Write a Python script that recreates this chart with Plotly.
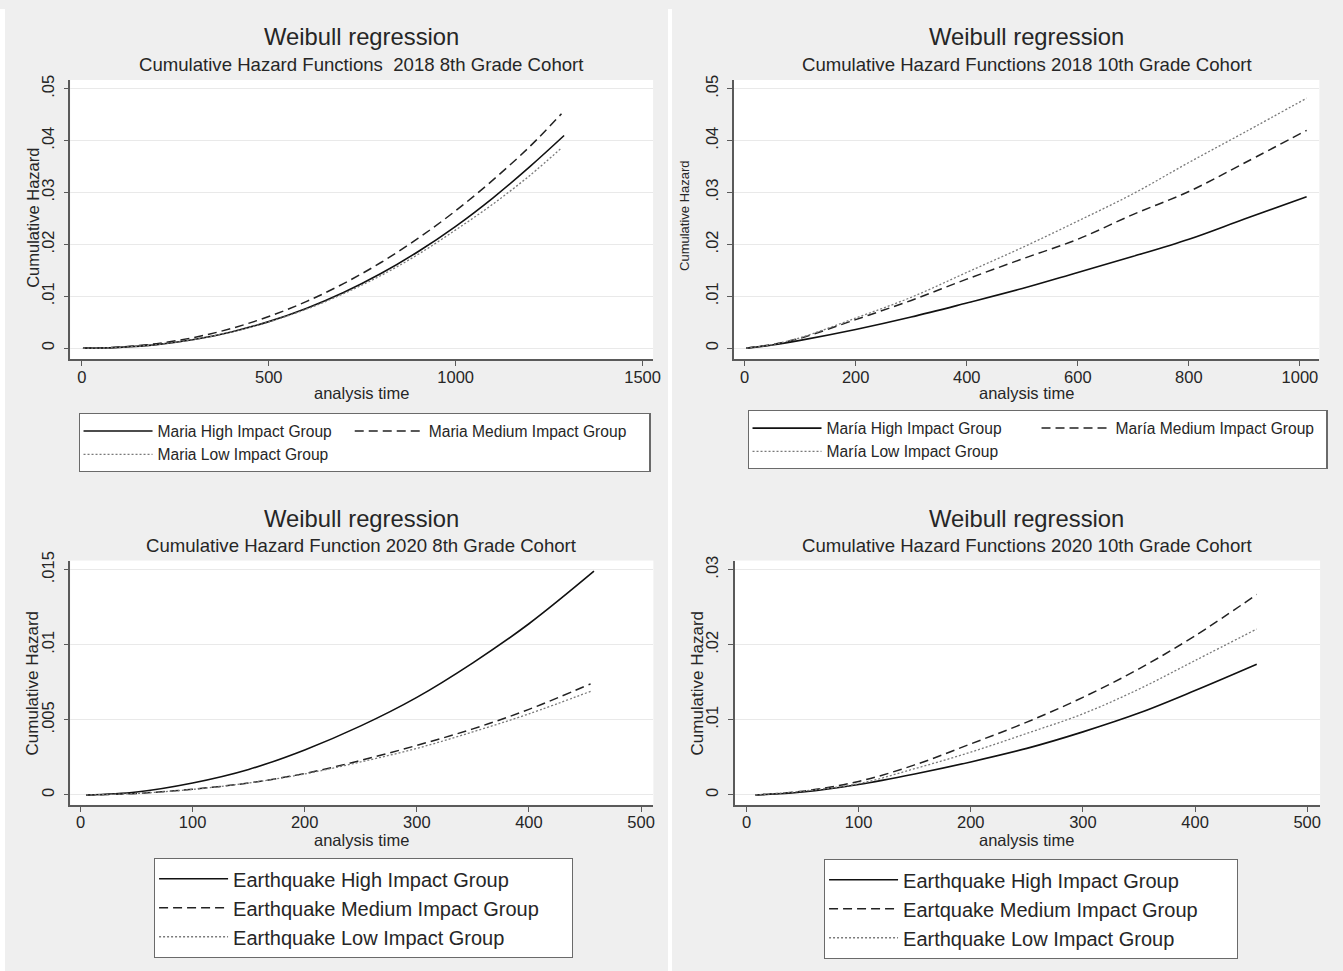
import plotly.graph_objects as go

W, H = 1343, 971

# ---------------- data ----------------
# Panel 1: 2018 8th Grade Cohort
p1_t_high = [3, 50, 100, 200, 300, 400, 500, 600, 700, 800, 900, 1000, 1100, 1200, 1290]
p1_high = [0, 0.00002, 0.00015, 0.00068, 0.00166, 0.00313, 0.00511, 0.00764, 0.01072, 0.01438, 0.01864, 0.0235, 0.0290, 0.0351, 0.0410]
p1_t_med = [3, 50, 100, 200, 300, 400, 500, 600, 700, 800, 900, 1000, 1100, 1200, 1283]
p1_med = [0, 0.00003, 0.0002, 0.00087, 0.00206, 0.00379, 0.0061, 0.00897, 0.01244, 0.01651, 0.0212, 0.0265, 0.03244, 0.0390, 0.0452]
p1_t_low = [3, 50, 100, 200, 300, 400, 500, 600, 700, 800, 900, 1000, 1100, 1200, 1283]
p1_low = [0, 0.00002, 0.00015, 0.00068, 0.00166, 0.00312, 0.00505, 0.0075, 0.0105, 0.0140, 0.0181, 0.0228, 0.0278, 0.0334, 0.0386]

# Panel 2: 2018 10th Grade Cohort
p2_t = [3, 50, 100, 200, 300, 400, 500, 600, 700, 800, 900, 1012]
p2_high = [0, 0.0006, 0.0015, 0.0036, 0.0060, 0.0087, 0.0115, 0.0146, 0.0177, 0.0210, 0.0249, 0.0292]
p2_med = [0, 0.0007, 0.0019, 0.0055, 0.0092, 0.0133, 0.0172, 0.0210, 0.0258, 0.0302, 0.0357, 0.0420]
p2_low = [0, 0.0007, 0.0020, 0.0058, 0.0098, 0.0146, 0.0194, 0.0245, 0.0298, 0.0358, 0.0416, 0.0482]

# Panel 3: 2020 8th Grade Cohort
p3_t_high = [5, 50, 100, 150, 200, 250, 300, 350, 400, 458]
p3_high = [0, 0.0002, 0.0008, 0.0017, 0.0030, 0.0046, 0.0065, 0.0088, 0.0114, 0.0149]
p3_t_ml = [5, 50, 100, 150, 200, 250, 300, 350, 400, 455]
p3_med = [0, 0.0001, 0.00038, 0.0008, 0.00143, 0.0023, 0.0033, 0.0044, 0.0057, 0.0074]
p3_low = [0, 0.0001, 0.00037, 0.0008, 0.0014, 0.0022, 0.0031, 0.0042, 0.0054, 0.0069]

# Panel 4: 2020 10th Grade Cohort
p4_t = [8, 50, 100, 150, 200, 250, 300, 350, 400, 455]
p4_high = [0, 0.0004, 0.0014, 0.0028, 0.0044, 0.0062, 0.0084, 0.0109, 0.0139, 0.0174]
p4_med = [0, 0.0005, 0.0018, 0.0040, 0.0068, 0.0097, 0.0130, 0.0168, 0.0212, 0.0267]
p4_low = [0, 0.0005, 0.0015, 0.0035, 0.0057, 0.0082, 0.0108, 0.0141, 0.0179, 0.0221]

# tick values / labels
x_ticks_p1 = [0, 500, 1000, 1500]
x_ticks_p2 = [0, 200, 400, 600, 800, 1000]
x_ticks_p34 = [0, 100, 200, 300, 400, 500]
y_ticks_top = [0, 0.01, 0.02, 0.03, 0.04, 0.05]
y_labels_top = ["0", ".01", ".02", ".03", ".04", ".05"]
y_ticks_p3 = [0, 0.005, 0.01, 0.015]
y_labels_p3 = ["0", ".005", ".01", ".015"]
y_ticks_p4 = [0, 0.01, 0.02, 0.03]
y_labels_p4 = ["0", ".01", ".02", ".03"]

titles = ["Cumulative Hazard Functions  2018 8th Grade Cohort",
          "Cumulative Hazard Functions 2018 10th Grade Cohort",
          "Cumulative Hazard Function 2020 8th Grade Cohort",
          "Cumulative Hazard Functions 2020 10th Grade Cohort"]
names_p1 = ["Maria High Impact Group", "Maria Medium Impact Group", "Maria Low Impact Group"]
names_p2 = ["María High Impact Group", "María Medium Impact Group", "María Low Impact Group"]
names_p3 = ["Earthquake High Impact Group", "Earthquake Medium Impact Group", "Earthquake Low Impact Group"]
names_p4 = ["Earthquake High Impact Group", "Eartquake Medium Impact Group", "Earthquake Low Impact Group"]

# ---------------- styling ----------------
FONT = "Liberation Sans, Arial, sans-serif"
TXT = "#262626"
BG = "#efefef"
AXC = "#5a5a5a"
GRID = "#e9e9e9"
NB = "\u00a0"  # invisible padding used to size the legend boxes

def px_x(p):
    return p / W

def px_y(p):
    return 1 - p / H

STY = {
    "high": dict(color="#111111", width=1.6, dash="solid"),
    "med": dict(color="#222222", width=1.5, dash="9px,5px"),
    "low": dict(color="#7a7a7a", width=1.3, dash="2px,2px"),
}

fig = go.Figure()

def add(tx, ty, name, kind, ax, leg, group, pad=0):
    fig.add_trace(go.Scatter(
        x=tx, y=ty, name=name + NB * pad, mode="lines", line=dict(**STY[kind], shape="spline"),
        xaxis="x" + ax, yaxis="y" + ax, legend=leg, legendgroup=group,
        hoverinfo="skip"))

# Panel 1
add(p1_t_high, p1_high, names_p1[0], "high", "", "legend", "a1", pad=3)
add(p1_t_med, p1_med, names_p1[1], "med", "", "legend", "b1", pad=4)
add(p1_t_low, p1_low, names_p1[2], "low", "", "legend", "a1")
# Panel 2
add(p2_t, p2_high, names_p2[0], "high", "2", "legend2", "a2")
add(p2_t, p2_med, names_p2[1], "med", "2", "legend2", "b2")
add(p2_t, p2_low, names_p2[2], "low", "2", "legend2", "a2")
# Panel 3
add(p3_t_high, p3_high, names_p3[0], "high", "3", "legend3", "c3")
add(p3_t_ml, p3_med, names_p3[1], "med", "3", "legend3", "c3", pad=5)
add(p3_t_ml, p3_low, names_p3[2], "low", "3", "legend3", "c3")
# Panel 4
add(p4_t, p4_high, names_p4[0], "high", "4", "legend4", "c4")
add(p4_t, p4_med, names_p4[1], "med", "4", "legend4", "c4", pad=6)
add(p4_t, p4_low, names_p4[2], "low", "4", "legend4", "c4")

# Axis geometry (pixels)
panels = [
    dict(xl=70.7, xr=657.0, yt=71.7, yb=353.3, xr_=[-30.9, 1528], yr_=[-0.0021, 0.0517],
         xt=x_ticks_p1, yt_=y_ticks_top, yl=y_labels_top),
    dict(xl=738.3, xr=1327.3, yt=71.7, yb=353.3, xr_=[-19.2, 1035], yr_=[-0.0021, 0.0517],
         xt=x_ticks_p2, yt_=y_ticks_top, yl=y_labels_top),
    dict(xl=70.7, xr=657.3, yt=556.7, yb=803.3, xr_=[-9.1, 511], yr_=[-0.00066, 0.01561],
         xt=x_ticks_p34, yt_=y_ticks_p3, yl=y_labels_p3),
    dict(xl=739.0, xr=1328.0, yt=556.7, yb=803.3, xr_=[-10.6, 511.5], yr_=[-0.00132, 0.03122],
         xt=x_ticks_p34, yt_=y_ticks_p4, yl=y_labels_p4),
]

layout = dict(
    width=W, height=H, margin=dict(l=0, r=0, t=0, b=0),
    paper_bgcolor=BG, plot_bgcolor="white",
    font=dict(family=FONT, color=TXT, size=16),
    showlegend=True,
)
for i, p in enumerate(panels):
    sfx = "" if i == 0 else str(i + 1)
    layout["xaxis" + sfx] = dict(
        domain=[px_x(p["xl"]), px_x(p["xr"])], range=p["xr_"], anchor="y" + sfx,
        tickvals=p["xt"], ticks="outside", ticklen=5, tickcolor=AXC, tickwidth=1,
        ticklabelstandoff=-3,
        showline=True, linecolor=AXC, linewidth=1.5, showgrid=False, zeroline=False,
        tickfont=dict(size=16.5, color=TXT), fixedrange=True)
    layout["yaxis" + sfx] = dict(
        domain=[px_y(p["yb"]), px_y(p["yt"])], range=p["yr_"], anchor="x" + sfx,
        tickvals=p["yt_"], ticktext=p["yl"], tickangle=-90, ticklabelstandoff=3,
        ticks="outside", ticklen=5, tickcolor=AXC, tickwidth=1,
        showline=True, linecolor=AXC, linewidth=1.5, showgrid=True, gridcolor=GRID,
        gridwidth=1.2, zeroline=False, tickfont=dict(size=16.5, color=TXT), fixedrange=True)

# legends
leg_common = dict(orientation="h", traceorder="grouped", bgcolor="white",
                  bordercolor="#6a6a6a", borderwidth=1.2, xanchor="left", yanchor="top",
                  itemwidth=69, tracegroupgap=0)
layout["legend"] = dict(leg_common, x=px_x(79), y=px_y(408),
                        font=dict(size=15.6, color=TXT))
layout["legend2"] = dict(leg_common, x=px_x(752), y=px_y(405), entrywidth=205,
                         font=dict(size=15.6, color=TXT))
layout["legend3"] = dict(leg_common, x=px_x(155), y=px_y(857), font=dict(size=20, color=TXT))
layout["legend4"] = dict(leg_common, x=px_x(829), y=px_y(858), font=dict(size=20, color=TXT))

fig.update_layout(**layout)

# titles and axis titles as annotations
ann = []
centers = [363.5, 1033.0, 363.5, 1033.0]
title_y = [28, 28, 514, 514]
sub_y = [56, 56, 542, 542]
ytitle = [(33, 211, 16.5), (688, 208, 13), (33, 680, 17), (702, 680, 17)]
xtitle_y = [388, 388, 839, 839]
for i in range(4):
    ann.append(dict(text="Weibull regression", x=px_x(centers[i]), y=px_y(title_y[i]),
                    xref="paper", yref="paper", showarrow=False, xanchor="center",
                    yanchor="middle", font=dict(size=23.8, color=TXT)))
    ann.append(dict(text=titles[i], x=px_x(centers[i]), y=px_y(sub_y[i]),
                    xref="paper", yref="paper", showarrow=False, xanchor="center",
                    yanchor="middle", font=dict(size=18.6, color=TXT)))
    ann.append(dict(text="Cumulative Hazard", x=px_x(ytitle[i][0]), y=px_y(ytitle[i][1]),
                    xref="paper", yref="paper", showarrow=False, textangle=-90,
                    xanchor="center", yanchor="middle", font=dict(size=ytitle[i][2], color=TXT)))
    ann.append(dict(text="analysis time", x=px_x(centers[i]), y=px_y(xtitle_y[i]),
                    xref="paper", yref="paper", showarrow=False, xanchor="center",
                    yanchor="middle", font=dict(size=16.5, color=TXT)))
fig.update_layout(annotations=ann)

# white strips: left page edge and separator between the left and right graphs
fig.add_shape(type="rect", xref="paper", yref="paper", x0=0, x1=px_x(5),
              y0=0, y1=1, line=dict(width=0), fillcolor="white", layer="below")
fig.add_shape(type="rect", xref="paper", yref="paper", x0=px_x(672), x1=px_x(676),
              y0=0, y1=1, line=dict(width=0), fillcolor="white", layer="below")

fig.write_html("out.html", config={"displayModeBar": False},
               post_script="document.body.style.margin='0';document.body.style.overflow='hidden';")
